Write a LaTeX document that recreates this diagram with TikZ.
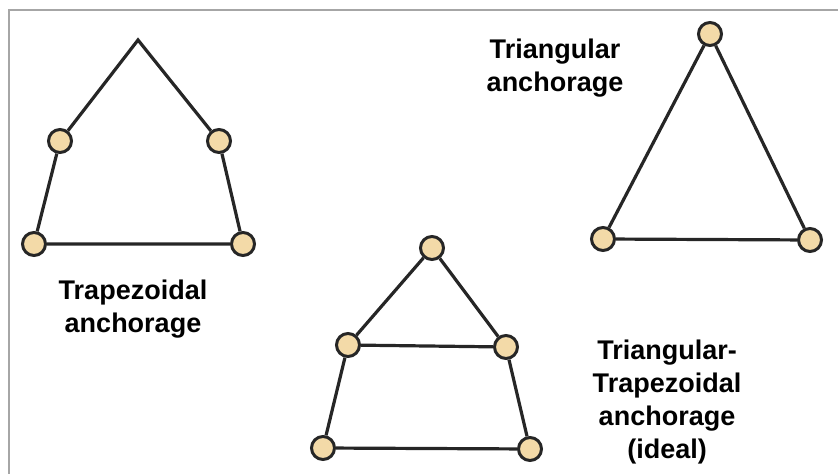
\documentclass[tikz,border=0pt]{standalone}
\usepackage{fontspec}
\setmainfont{Liberation Sans}
\usepackage{tikz}
\usetikzlibrary{positioning, calc}
\definecolor{jointfill}{RGB}{243,218,168}
\definecolor{barline}{RGB}{38,38,38}

\begin{document}
\begin{tikzpicture}[x=0.5pt,y=-0.5pt,
	joint/.style={circle,draw=barline,line width=1.5pt,fill=jointfill,minimum size=11.5pt,inner sep=0pt},
	bar/.style={draw=barline,line width=1.6pt},
	caption/.style={align=center,font=\bfseries\fontsize{13.5}{16.5}\selectfont}]
	\useasboundingbox (0,0) rectangle (838,474);
	\draw[gray!70,line width=1pt] (9,474)--(9,10)--(838,10);
	% trapezoidal
	\coordinate (P0) at (138,40);
	\node[joint] (P1) at (60,141) {};
	\node[joint] (P2) at (219,141) {};
	\node[joint] (P3) at (34,244) {};
	\node[joint] (P4) at (243,244) {};
	\draw[bar] (P1)--(P0)--(P2);
	\draw[bar] (P1)--(P3)--(P4)--(P2);
	\node[caption] (Pt) at (133,309) {Trapezoidal\\anchorage};
	% triangular
	\node[joint] (T0) at (710,34) {};
	\node[joint] (T1) at (603,239) {};
	\node[joint] (T2) at (810,240) {};
	\draw[bar] (T0)--(T1)--(T2)--(T0);
	\node[caption] (Tt) at (555,68) {Triangular\\anchorage};
	% combined
	\node[joint] (C0) at (432,248) {};
	\node[joint] (C1) at (348,345) {};
	\node[joint] (C2) at (506,347) {};
	\node[joint] (C3) at (323,448) {};
	\node[joint] (C4) at (530,449) {};
	\draw[bar] (C0)--(C1)--(C2)--(C0);
	\draw[bar] (C1)--(C3)--(C4)--(C2);
	\node[caption] (Ct) at (667,402) {Triangular-\\Trapezoidal\\anchorage\\(ideal)};
\end{tikzpicture}
\end{document}
